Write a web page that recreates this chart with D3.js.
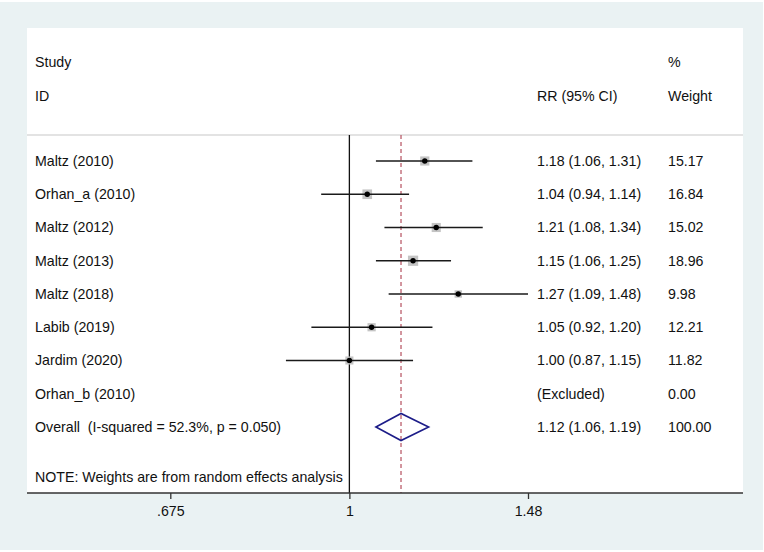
<!DOCTYPE html>
<html><head><meta charset="utf-8">
<script src="https://cdn.jsdelivr.net/npm/d3@7"></script>
<style>body{margin:0;background:#fff}svg{display:block}text{font-family:"Liberation Sans",Arial,sans-serif;font-size:14.2px;fill:#111;white-space:pre}</style>
</head><body><svg id="c" width="764" height="552"></svg>
<script>
const studies = ["Maltz (2010)","Orhan_a (2010)","Maltz (2012)","Maltz (2013)","Maltz (2018)","Labib (2019)","Jardim (2020)","Orhan_b (2010)"];
const rr = [1.18,1.04,1.21,1.15,1.27,1.05,1.00,null];
const lo = [1.06,0.94,1.08,1.06,1.09,0.92,0.87,null];
const hi = [1.31,1.14,1.34,1.25,1.48,1.20,1.15,null];
const weights = [15.17,16.84,15.02,18.96,9.98,12.21,11.82,0.00];
const overall = {label:"Overall  (I-squared = 52.3%, p = 0.050)", rr:1.12, lo:1.06, hi:1.19, weight:100.00};
const tickVals = [0.675,1,1.48];
const tickLabels = [".675","1","1.48"];
const note = "NOTE: Weights are from random effects analysis";

const svg = d3.select("#c");
svg.append("rect").attr("x",0).attr("y",2).attr("width",763).attr("height",548).attr("fill","#eaf2f3");
const P = {l:27,r:743,t:28,b:493};
svg.append("rect").attr("x",P.l).attr("y",P.t).attr("width",P.r-P.l).attr("height",P.b-P.t).attr("fill","#fff");

const x = d3.scaleLog().domain([0.675,1.48]).range([170.3,528]);
const y = d3.scaleLinear().domain([0,1]).range([161,194.25]);

// header
const hdr = [["Study",35,62],["ID",35,96],["%",668,62],["RR (95% CI)",537,96],["Weight",668,96]];
svg.selectAll("text.h").data(hdr).join("text").attr("class","h")
  .attr("x",d=>d[1]).attr("y",d=>d[2]).attr("dy","0.35em").text(d=>d[0]);
svg.append("line").attr("x1",P.l).attr("x2",P.r).attr("y1",135).attr("y2",135).attr("stroke","#c8c8c8").attr("stroke-width",1.2);

// null line and overall dashed line
svg.append("line").attr("x1",x(1)).attr("x2",x(1)).attr("y1",135).attr("y2",P.b).attr("stroke","#111").attr("stroke-width",1.3);
svg.append("line").attr("x1",x(overall.rr)).attr("x2",x(overall.rr)).attr("y1",135).attr("y2",P.b)
  .attr("stroke","#b5505f").attr("stroke-width",1.2).attr("stroke-dasharray","4,3");

const rows = studies.map((s,i)=>({s,rr:rr[i],lo:lo[i],hi:hi[i],w:weights[i],i}));
const g = svg.append("g");
rows.forEach(d=>{
  const yy = y(d.i);
  g.append("text").attr("x",35).attr("y",yy).attr("dy","0.35em").text(d.s);
  g.append("text").attr("x",537).attr("y",yy).attr("dy","0.35em")
    .text(d.rr==null?"(Excluded)":`${d.rr.toFixed(2)} (${d.lo.toFixed(2)}, ${d.hi.toFixed(2)})`);
  g.append("text").attr("x",668).attr("y",yy).attr("dy","0.35em").text(d.w.toFixed(2));
  if(d.rr==null) return;
  const side = 2.35*Math.sqrt(d.w);
  g.append("rect").attr("x",x(d.rr)-side/2).attr("y",yy-side/2).attr("width",side).attr("height",side).attr("fill","#c4c4c4");
  g.append("line").attr("x1",x(d.lo)).attr("x2",x(d.hi)).attr("y1",yy).attr("y2",yy).attr("stroke","#1a1a1a").attr("stroke-width",1.6);
  g.append("circle").attr("cx",x(d.rr)).attr("cy",yy).attr("r",2.7).attr("fill","#000");
});

// overall
const oy = y(8);
g.append("text").attr("x",35).attr("y",oy).attr("dy","0.35em").text(overall.label);
g.append("text").attr("x",537).attr("y",oy).attr("dy","0.35em").text(`${overall.rr.toFixed(2)} (${overall.lo.toFixed(2)}, ${overall.hi.toFixed(2)})`);
g.append("text").attr("x",668).attr("y",oy).attr("dy","0.35em").text(overall.weight.toFixed(2));
const dh = 13.5;
g.append("path").attr("d",`M${x(overall.lo)},${oy}L${x(overall.rr)},${oy-dh}L${x(overall.hi)},${oy}L${x(overall.rr)},${oy+dh}Z`)
  .attr("fill","none").attr("stroke","#1c1c88").attr("stroke-width",1.6);

g.append("text").attr("x",35).attr("y",y(9.5)).attr("dy","0.35em").text(note);

// axis
svg.append("line").attr("x1",P.l).attr("x2",P.r).attr("y1",P.b).attr("y2",P.b).attr("stroke","#333").attr("stroke-width",1.3);
const ax = svg.append("g").attr("transform",`translate(0,${P.b})`)
  .call(d3.axisBottom(x).tickValues(tickVals).tickFormat((d,i)=>tickLabels[i]).tickSize(6).tickPadding(7));
ax.select(".domain").remove();
ax.selectAll("line").attr("stroke","#333").attr("stroke-width",1.3);
ax.selectAll("text").attr("font-size",14.2).attr("font-family","Liberation Sans, Arial, sans-serif").attr("fill","#111");
</script></body></html>
